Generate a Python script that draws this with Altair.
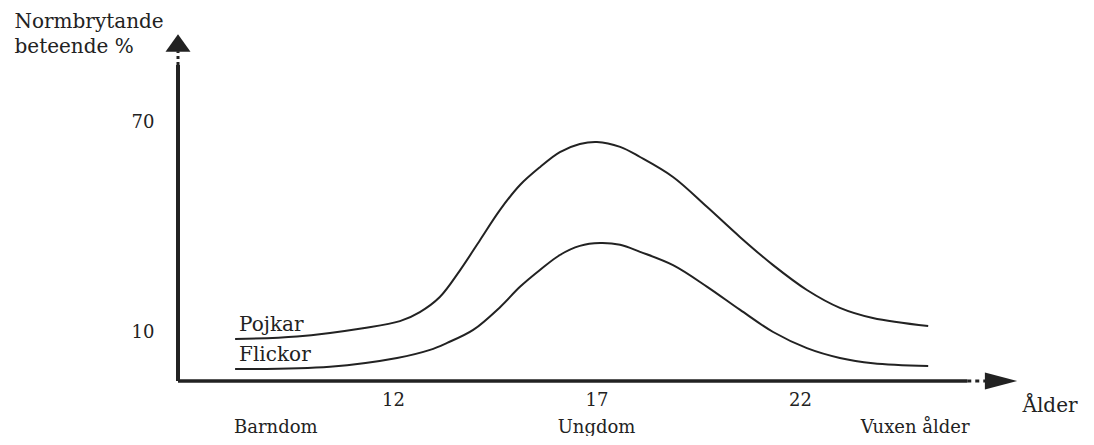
import altair as alt
import pandas as pd

# ---- data ----
ages_pojkar = [8.12, 9.64, 11.26, 12.17, 12.66, 13.15, 13.65, 14.14, 14.63, 15.12, 15.61, 16.10,
               16.59, 17.01, 17.58, 18.07, 18.88, 19.72, 20.53, 21.34, 22.17, 22.98, 23.79, 25.15]
pojkar = [8.0, 8.7, 11.1, 13.1, 15.7, 20.0, 27.7, 36.3, 44.9, 52.0, 57.1, 61.4,
          63.7, 64.3, 62.9, 60.0, 54.3, 45.7, 37.1, 29.1, 22.0, 16.9, 14.0, 11.7]

ages_flickor = [8.12, 10.45, 12.10, 12.91, 13.33, 13.97, 14.63, 15.12, 15.61, 16.10, 16.59,
                17.09, 17.58, 18.07, 18.88, 19.72, 20.53, 21.34, 22.17, 22.98, 23.79, 25.15]
flickor = [-0.6, 0.1, 2.6, 4.9, 6.9, 10.6, 17.1, 22.9, 27.7, 32.0, 34.6,
           35.4, 34.9, 32.9, 29.1, 22.9, 16.3, 10.0, 5.4, 2.6, 1.1, 0.3]

series_names = ["Pojkar", "Flickor"]
x_ticks = [12, 17, 22]
y_ticks = [10, 70]
stage_names = ["Barndom", "Ungdom", "Vuxen ålder"]
stage_ages = [9.12, 17.0, 24.83]

X_MIN, X_MAX = 6.717, 27.16
Y_MIN, Y_MAX = -4, 94

FONT = "DejaVu Serif"
INK = "#222222"

rows = []
for a, v in zip(ages_pojkar, pojkar):
    rows.append({"age": a, "val": v, "series": series_names[0]})
for a, v in zip(ages_flickor, flickor):
    rows.append({"age": a, "val": v, "series": series_names[1]})
curves_df = pd.DataFrame(rows)

labels_df = pd.DataFrame({
    "series": series_names,
    "age": [ages_pojkar[0], ages_flickor[0]],
    "val": [pojkar[0], flickor[0]],
})
stages_df = pd.DataFrame({"stage": stage_names, "age": stage_ages})

xscale = alt.Scale(domain=[X_MIN, X_MAX], nice=False, zero=False)
yscale = alt.Scale(domain=[Y_MIN, Y_MAX], nice=False, zero=False)

x_axis = alt.Axis(values=x_ticks, domain=False, ticks=False, grid=False,
                  labelFont=FONT, labelFontSize=18, labelColor=INK, labelPadding=10,
                  title="Ålder", titleFont=FONT, titleFontSize=20, titleFontWeight="normal",
                  titleColor=INK, titleAlign="left", titleBaseline="middle",
                  titleX=844, titleY=24, titleAngle=0)
y_axis = alt.Axis(values=y_ticks, domain=False, ticks=False, grid=False,
                  labelFont=FONT, labelFontSize=18, labelColor=INK, labelPadding=24,
                  title=["Normbrytande", "beteende %"], titleFont=FONT, titleFontSize=20,
                  titleFontWeight="normal", titleColor=INK, titleAngle=0,
                  titleAlign="left", titleBaseline="top", titleX=-164, titleY=-27,
                  titleLineHeight=25)

curves = alt.Chart(curves_df).mark_line(
    interpolate="catmull-rom", color=INK, strokeWidth=2
).encode(
    x=alt.X("age:Q", scale=xscale, axis=x_axis),
    y=alt.Y("val:Q", scale=yscale, axis=y_axis),
    detail="series:N",
)

series_text = alt.Chart(labels_df).mark_text(
    align="left", baseline="middle", font=FONT, fontSize=20, color=INK, dx=4, dy=-14
).encode(x=alt.X("age:Q", scale=xscale), y=alt.Y("val:Q", scale=yscale), text="series:N")

# axes drawn as rules with arrows
y_line = alt.Chart().mark_rule(color=INK, strokeWidth=4).encode(
    x=alt.datum(X_MIN, scale=xscale), y=alt.datum(Y_MIN, scale=yscale), y2=alt.datum(86.3))
y_dash = alt.Chart().mark_rule(color=INK, strokeWidth=3, strokeDash=[3, 3]).encode(
    x=alt.datum(X_MIN, scale=xscale), y=alt.datum(86.3, scale=yscale), y2=alt.datum(90.2))
x_line = alt.Chart().mark_rule(color=INK, strokeWidth=3.5).encode(
    x=alt.datum(X_MIN, scale=xscale), x2=alt.datum(26.11), y=alt.datum(Y_MIN, scale=yscale))
x_dash = alt.Chart().mark_rule(color=INK, strokeWidth=3, strokeDash=[4, 4]).encode(
    x=alt.datum(26.11, scale=xscale), x2=alt.datum(26.55), y=alt.datum(Y_MIN, scale=yscale))

y_arrow = alt.Chart().mark_point(
    shape="M-1,0.7L0,-0.7L1,0.7Z", filled=True, color=INK, opacity=1, size=625
).encode(x=alt.datum(X_MIN, scale=xscale), y=alt.datum(92.6, scale=yscale))
x_arrow = alt.Chart().mark_point(
    shape="M-1.9,-1L1.9,0L-1.9,1Z", filled=True, color=INK, opacity=1, size=289
).encode(x=alt.datum(26.94, scale=xscale), y=alt.datum(Y_MIN, scale=yscale))

stages = alt.Chart(stages_df).mark_text(
    align="center", baseline="alphabetic", font=FONT, fontSize=18, color=INK
).encode(x=alt.X("age:Q", scale=xscale), y=alt.value(395), text="stage:N")

chart = alt.layer(
    curves, series_text, y_line, y_dash, x_line, x_dash, y_arrow, x_arrow, stages
).properties(
    width=832, height=343,
    autosize=alt.AutoSizeParams(type="none"),
    padding={"left": 170, "top": 30, "right": 76, "bottom": 55},
    background="white",
).configure_view(stroke=None)

chart.save("out.html", embed_options={"renderer": "svg", "actions": False})
